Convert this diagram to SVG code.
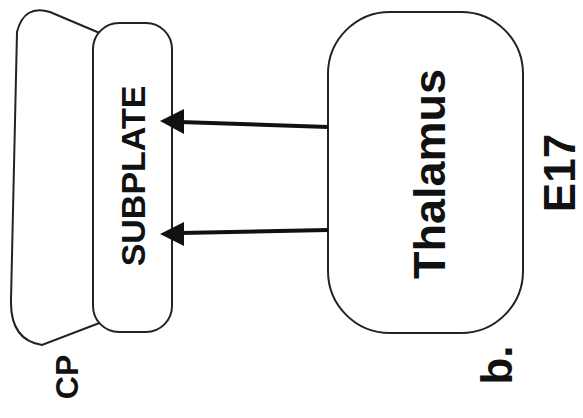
<svg xmlns="http://www.w3.org/2000/svg" width="583" height="418" viewBox="0 0 583 418">
<style>
.box{fill:#fff;stroke:#222;stroke-width:2}
.lbl{font-family:"Liberation Sans",Arial,sans-serif;font-weight:bold;fill:#111}
.conn{stroke:#111;stroke-width:4;fill:none}
.head{fill:#111}
</style>
<rect width="583" height="418" fill="#fff"/>
<g id="cp">
<path class="box" d="M102,34 L50,12 Q24,4 17,32 L11,300 Q10,340 42,345 L102,322"/>
<text class="lbl" font-size="32" text-anchor="middle" transform="translate(78,377) rotate(-90)">CP</text>
</g>
<g id="subplate">
<rect class="box" x="93" y="23" width="79" height="309" rx="26" ry="26"/>
<text class="lbl" font-size="34" text-anchor="middle" transform="translate(145,176) rotate(-90)">SUBPLATE</text>
</g>
<g id="thalamus">
<rect class="box" x="328" y="12" width="195" height="321" rx="62" ry="62"/>
<text class="lbl" font-size="45" text-anchor="middle" transform="translate(445,174) rotate(-90)">Thalamus</text>
</g>
<g id="e17">
<text class="lbl" font-size="44" text-anchor="middle" transform="translate(575,173) rotate(-90)">E17</text>
</g>
<g id="b">
<text class="lbl" font-size="44" text-anchor="middle" transform="translate(512,365) rotate(-90)">b.</text>
</g>
<g id="connectors">
<path class="conn" d="M328,127 L180,122"/>
<polygon class="head" points="160,121 184,109 184,134"/>
<path class="conn" d="M328,230 L180,233"/>
<polygon class="head" points="160,234 184,222 184,246"/>
</g>
</svg>
